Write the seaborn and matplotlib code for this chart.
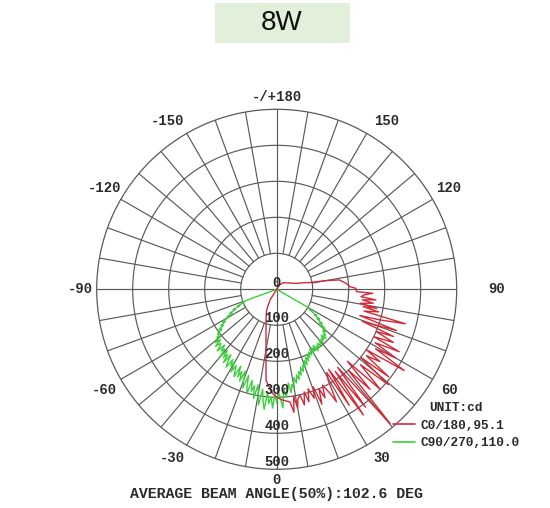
import numpy as np
import pandas as pd
import matplotlib
matplotlib.use("Agg")
import matplotlib.pyplot as plt
import seaborn as sns
from matplotlib.patches import Rectangle
from matplotlib.lines import Line2D

# ---------------- data ----------------
title_text = "8W"
unit_text = "UNIT:cd"
series_labels = ["C0/180,95.1", "C90/270,110.0"]
footer_text = "AVERAGE BEAM ANGLE(50%):102.6 DEG"
ring_values = [0, 100, 200, 300, 400, 500]
angle_tick_values = [0, 30, 60, 90, 120, 150, 180, -150, -120, -90, -60, -30]
angle_tick_labels = ["0", "30", "60", "90", "120", "150", "-/+180",
                     "-150", "-120", "-90", "-60", "-30"]

red_deg = [-180, -90, -45, -32, -26, -21, -15, -10, -6.7, -3, 0, 3, 6.7,
           8, 9, 10, 11, 12.4, 13.5, 15, 16, 17.5, 19, 20.5, 21.5, 23, 24, 25.5, 27, 28, 29.5,
           31, 32, 33, 34.6, 35.5, 37, 38, 40.2, 41.5, 43, 44.5, 46,
           48, 49.5, 51, 52, 53.5, 55, 56, 57.5, 59, 60,
           61.5, 63, 64, 65.5, 67, 68, 69.5, 71, 72.5, 73.5, 75,
           76, 77.5, 78.7, 79.2, 80.5, 81.8, 83, 83.9, 85, 86.5, 87.6, 88.3,
           90.7, 92, 95, 98.5, 100, 101.5, 104, 107, 135, 148, 180]
red_cd = [0, 0, 0, 35, 64, 82, 115, 171, 254, 285, 300, 308, 315,
          345, 300, 335, 310, 300, 330, 295, 325, 290, 320, 289, 343, 300, 330, 295, 321, 354, 290,
          270, 380, 265, 424, 280, 410, 275, 488, 300, 380, 280, 400,
          313, 408, 300, 395, 310, 350, 300, 420, 320, 382,
          311, 382, 300, 356, 300, 350, 254, 352, 242, 300, 370,
          250, 290, 245, 283, 235, 271, 240, 277, 235, 245, 267, 222,
          220, 204, 193, 176, 139, 93, 75, 56, 26, 14, 0]

green_deg = [-90] + list(range(-70, 61)) + [60]
green_cd = [0,
            90, 104, 98, 118, 112, 134, 128, 146, 140, 158,
            152, 176, 168, 186, 178, 196, 188, 206, 199, 214,
            204, 226, 210, 232, 216, 222, 238, 212, 230, 220,
            246, 218, 240, 226, 252, 222, 244, 258, 230, 248,
            232, 262, 240, 255, 270, 236, 266, 248, 275, 244,
            268, 290, 252, 282, 300, 262, 292, 275, 310, 270,
            298, 325, 280, 312, 335, 288, 318, 300, 330, 292,
            315, 285, 305, 330, 278, 300, 286, 262, 290, 268,
            280, 250, 266, 244, 258, 236, 248, 226, 240, 222,
            232, 212, 226, 204, 218, 200, 210, 196, 206, 190,
            204, 190, 200, 186, 206, 192, 200, 188, 198, 192,
            182, 196, 184, 192, 178, 194, 180, 186, 172, 180,
            164, 172, 150, 158, 138, 146, 126, 132, 108, 112, 100,
            0]

# ---------------- styling ----------------
sns.set_theme(style="white")
plt.rcParams["font.family"] = ["Liberation Mono", "DejaVu Sans Mono"]
plt.rcParams["font.weight"] = "bold"

RED = "#d02a38"
GREEN = "#3ccf3c"
GRID = "#5a5a5a"
TXT = "#2a2a2a"

W, H = 550, 508
fig = plt.figure(figsize=(W / 100, H / 100), dpi=100)

cx, cy, R = 276.7, 289.3, 180.0
ax = fig.add_axes([(cx - R) / W, (H - cy - R) / H, 2 * R / W, 2 * R / H], projection="polar")
ax.set_theta_zero_location("S")
ax.set_theta_direction(1)
ax.set_ylim(0, 500)
ax.set_xticks([])
ax.set_yticks([])
ax.grid(False)
ax.spines["polar"].set_color(GRID)
ax.spines["polar"].set_linewidth(0.9)

# grid circles
tt = np.linspace(0, 2 * np.pi, 721)
for rv in ring_values[1:-1]:
    ax.plot(tt, np.full_like(tt, rv), color=GRID, lw=0.85, zorder=1)
# radial lines
for d in range(0, 360, 10):
    th = np.deg2rad(d)
    r0 = 0 if d % 90 == 0 else 100
    ax.plot([th, th], [r0, 500], color=GRID, lw=0.85, zorder=1)

# data
df_red = pd.DataFrame({"theta": np.deg2rad(red_deg), "cd": red_cd, "curve": series_labels[0]})
df_green = pd.DataFrame({"theta": np.deg2rad(green_deg), "cd": green_cd, "curve": series_labels[1]})
sns.lineplot(data=df_green, x="theta", y="cd", sort=False, estimator=None,
             color=GREEN, lw=1.0, ax=ax, legend=False, zorder=3)
sns.lineplot(data=df_red, x="theta", y="cd", sort=False, estimator=None,
             color=RED, lw=1.0, ax=ax, legend=False, zorder=4)
ax.set_xlabel("")
ax.set_ylabel("")
ax.set_ylim(0, 500)

# radial value labels along the 0 axis
pxr = 500 / R
for rv in ring_values:
    if rv == 0:
        ax.text(np.pi, 6 * pxr, "0", ha="center", va="center", fontsize=10, color=TXT, zorder=5)
    else:
        ax.text(0, rv - 7 * pxr, str(rv), ha="center", va="center", fontsize=10, color=TXT, zorder=5)

# angle labels
label_pos = {0: (0, 191), 30: (31.8, 198.5), 60: (59.7, 200), 90: (90, 220),
             120: (120.5, 199.4), 150: (147, 201), 180: (180, 192),
             -150: (-147, 201), -120: (-120.5, 199.4), -90: (-90, 196.7),
             -60: (-59.7, 200), -30: (-31.8, 198.5)}
for v, lab in zip(angle_tick_values, angle_tick_labels):
    a, dpx = label_pos[v]
    ax.text(np.deg2rad(a), dpx * pxr, lab, ha="center", va="center", fontsize=10,
            color=TXT, clip_on=False)

# legend
handles = [Line2D([], [], color=RED, lw=1.2), Line2D([], [], color=GREEN, lw=1.2)]
leg = fig.legend(handles, series_labels, title=unit_text, loc="upper left",
                 bbox_to_anchor=(393 / W, 1 - 402 / H), frameon=False,
                 borderpad=0, borderaxespad=0, handlelength=1.7, handletextpad=0.45,
                 labelspacing=0.45,
                 prop={"family": "Liberation Mono", "size": 9.2, "weight": "bold"},
                 title_fontproperties={"family": "Liberation Mono", "size": 9.2, "weight": "bold"})
for t in leg.get_texts():
    t.set_color(TXT)
leg.get_title().set_color(TXT)

# footer
fig.text(276.5 / W, 1 - 494 / H, footer_text, ha="center", va="center",
         fontsize=10.7, color=TXT)

# title box
fig.patches.append(Rectangle((215 / W, 1 - 43 / H), 135 / W, 40 / H,
                             transform=fig.transFigure, facecolor="#e2efda",
                             edgecolor="none", zorder=0))
fig.text(282 / W, 1 - 23 / H, title_text, ha="center", va="center", fontsize=20,
         family="Liberation Sans", weight="normal", color="#111111")

fig.savefig("out.png", dpi=100, facecolor="white")
